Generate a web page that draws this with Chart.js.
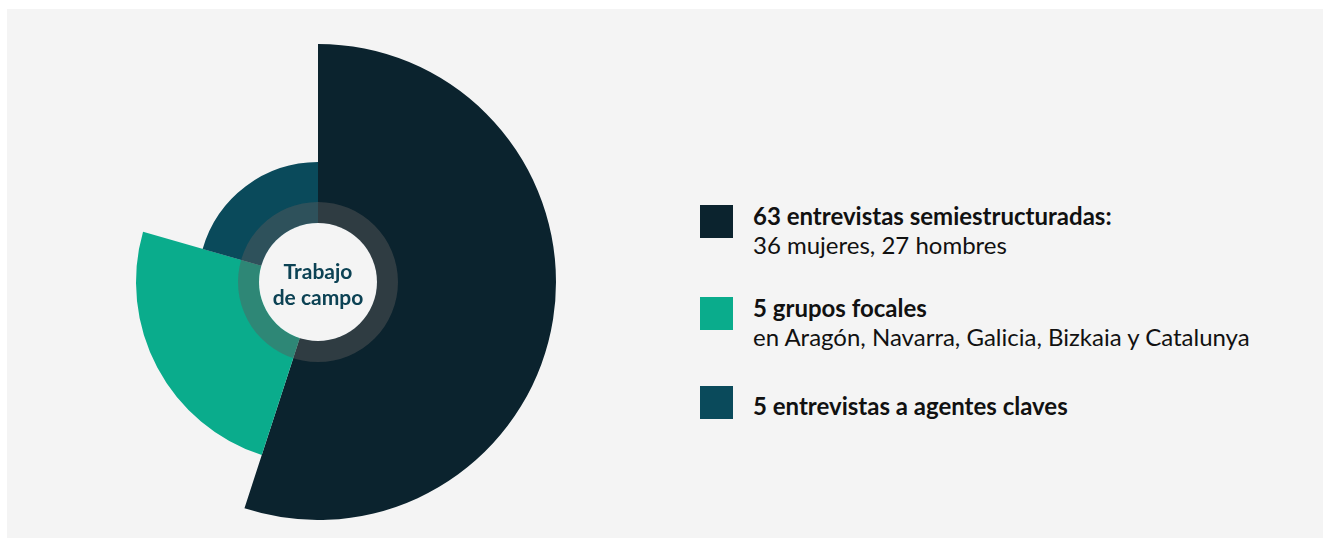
<!doctype html>
<html>
<head>
	<meta charset="utf-8">
	<title>Trabajo de campo</title>
	<script src="https://cdn.jsdelivr.net/npm/chart.js@4.4.1"></script>
	<style>
	* { margin: 0; padding: 0; font-family: Lato, sans-serif; }
	body { width: 1323px; height: 538px; background: #fff; position: relative; overflow: hidden; }
	.panel { position: absolute; left: 7px; top: 9px; right: 0; bottom: 0; background: #f4f4f4; }
	.chartBox { position: absolute; left: 80px; top: 44px; width: 476px; height: 476px; }
	.center { position: absolute; left: 248px; top: 225px; width: 140px; height: 118px;
		display: flex; align-items: center; justify-content: center; text-align: center;
		color: #0c4254; font-weight: 700; font-size: 21px; line-height: 26px; }
	.legend { position: absolute; left: 700px; top: 0; }
	.item { position: absolute; left: 0; white-space: nowrap; }
	.item .sq { position: absolute; left: 0; top: 0; width: 33px; height: 33px; }
	.item .txt { position: absolute; left: 53px; top: -4px; font-size: 24px; line-height: 29px; color: #111; }
	.item .txt.single { top: 5px; }
	.item b { font-weight: 700; }
	</style>
</head>
<body>
	<div class="panel"></div>
	<div class="chartBox"><canvas id="canvas_polar"></canvas></div>
	<div class="center">Trabajo<br>de campo</div>
	<div class="legend" id="legend"></div>

<script type="text/javascript">
	// slices, clockwise from the top
	var labels = ['63 entrevistas semiestructuradas:', '5 grupos focales', '5 entrevistas a agentes claves'];
	var sublabels = ['36 mujeres, 27 hombres', 'en Aragón, Navarra, Galicia, Bizkaia y Catalunya', ''];
	var radius_values = [238, 182, 120];   // length of each slice
	var angle_values = [198, 88, 74];      // degrees covered by each slice
	var colors = ['#0b232e', '#0aac8c', '#0a4a5b'];

	var legend_tops = [205, 297, 386];

	var legend = document.getElementById('legend');
	labels.forEach(function(label, i) {
		var d = document.createElement('div');
		d.className = 'item';
		d.style.top = legend_tops[i] + 'px';
		d.innerHTML = '<div class="sq" style="background:' + colors[i] + '"></div>' +
			'<div class="txt' + (sublabels[i] ? '' : ' single') + '"><b>' + label + '</b>' +
			(sublabels[i] ? '<br>' + sublabels[i] : '') + '</div>';
		legend.appendChild(d);
	});

	// grey ring + plain disc in the middle
	var centerRing = {
		id: 'centerRing',
		afterDatasetsDraw: function(chart) {
			var ctx = chart.ctx;
			var r = chart.scales.r;
			var x = r.xCenter, y = r.yCenter;
			ctx.save();
			ctx.beginPath();
			ctx.arc(x, y, 80, 0, Math.PI * 2);
			ctx.arc(x, y, 59, 0, Math.PI * 2, true);
			ctx.fillStyle = 'rgba(90,90,90,0.45)';
			ctx.fill();
			ctx.beginPath();
			ctx.arc(x, y, 59, 0, Math.PI * 2);
			ctx.fillStyle = '#f4f4f4';
			ctx.fill();
			ctx.restore();
		}
	};

	const polar_config = {
		type: 'polarArea',
		data: {
			labels: labels,
			datasets: [{
				data: radius_values,
				angle: angle_values,
				backgroundColor: colors,
				borderWidth: 0,
			}]
		},
		options: {
			responsive: true,
			maintainAspectRatio: false,
			animation: false,
			layout: { padding: 0 },
			scales: {
				r: {
					min: 0,
					max: 238,
					startAngle: 0,
					ticks: { display: false },
					grid: { display: false },
					angleLines: { display: false },
					pointLabels: { display: false },
				}
			},
			plugins: {
				legend: { display: false },
				tooltip: { enabled: false },
			}
		},
		plugins: [centerRing]
	};

	var polar_Chart = new Chart(document.getElementById('canvas_polar'), polar_config);
</script>
</body>
</html>
